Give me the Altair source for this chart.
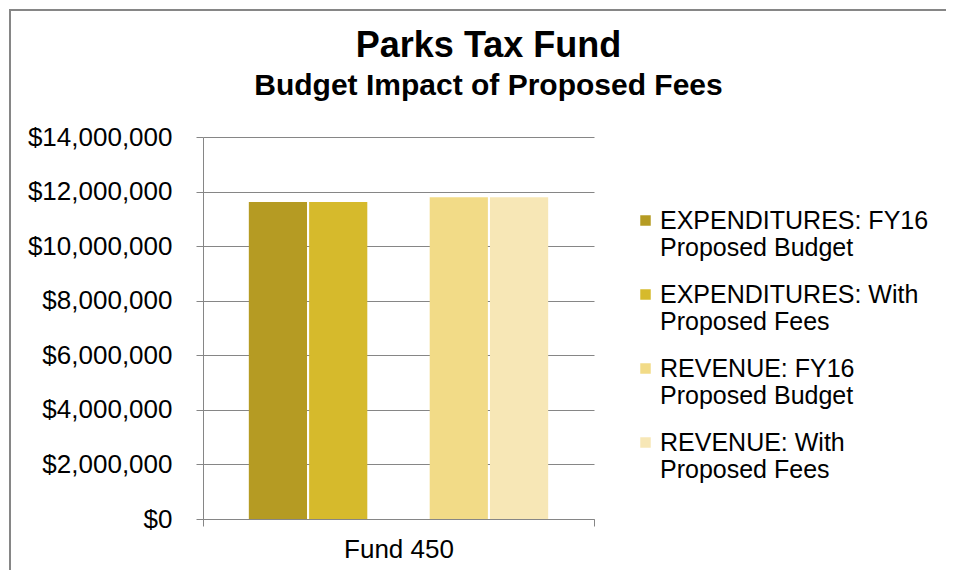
import altair as alt
import pandas as pd

fund = ["Fund 450"] * 4
series = [
    "EXPENDITURES: FY16 Proposed Budget",
    "EXPENDITURES: With Proposed Fees",
    "REVENUE: FY16 Proposed Budget",
    "REVENUE: With Proposed Fees",
]
values = [11620000, 11620000, 11790000, 11790000]
colors = ["#B59B23", "#D6BA2C", "#F2DB87", "#F7E7B6"]
offset_domain = [series[0], series[1], "spacer", series[2], series[3]]
y_ticks = [0, 2000000, 4000000, 6000000, 8000000, 10000000, 12000000, 14000000]

df = pd.DataFrame({"fund": fund, "series": series, "value": values})

font = "Liberation Sans"
gray = "#868686"

bars = alt.Chart(df).mark_bar().encode(
    x=alt.X("fund:N", title=None,
            scale=alt.Scale(paddingOuter=0, paddingInner=0),
            axis=alt.Axis(labelAngle=0, labelFontSize=26, labelColor="#000000",
                          labelFont=font, domainColor=gray, tickColor=gray,
                          tickBand="extent", tickSize=7, labelPadding=10)),
    xOffset=alt.XOffset("series:N", scale=alt.Scale(domain=offset_domain,
                                                    paddingInner=0.035, paddingOuter=0.76)),
    y=alt.Y("value:Q", title=None,
            scale=alt.Scale(domain=[0, 14000000]),
            axis=alt.Axis(values=y_ticks, format="$,.0f", labelFontSize=26,
                          labelColor="#000000", labelFont=font,
                          domainColor=gray, tickColor=gray, tickSize=7,
                          gridColor=gray, labelPadding=24)),
    color=alt.Color("series:N", scale=alt.Scale(domain=series, range=colors),
                    legend=alt.Legend(title=None, orient="none", legendX=430, legendY=71,
                                      labelFontSize=25, labelFont=font, labelColor="#000000",
                                      labelLimit=400, symbolType="square", symbolSize=110,
                                      symbolStrokeWidth=0, rowPadding=21, labelOffset=2,
                                      labelExpr="split(replace(datum.label, ' Proposed', '|Proposed'), '|')")),
)

frame_df = pd.DataFrame({"k": [0]})
frame_left = alt.Chart(frame_df).mark_rule(stroke=gray, strokeWidth=2).encode(
    x=alt.value(-193), y=alt.value(-128), y2=alt.value(440)
)
frame_top = alt.Chart(frame_df).mark_rule(stroke=gray, strokeWidth=2).encode(
    x=alt.value(-194), x2=alt.value(743), y=alt.value(-127)
)

chart = alt.layer(frame_left, frame_top, bars).properties(
    width=391, height=382,
    autosize=alt.AutoSizeParams(type="none"),
    padding={"left": 195, "top": 129, "right": 352, "bottom": 51},
    title=alt.TitleParams("Parks Tax Fund", subtitle="Budget Impact of Proposed Fees",
                          fontSize=36, subtitleFontSize=30, fontWeight="bold",
                          subtitleFontWeight="bold", font=font, subtitleFont=font,
                          color="#000000", subtitleColor="#000000", anchor="middle",
                          frame="group", dx=90, dy=114, offset=20, subtitlePadding=6),
).configure_view(stroke=None)

chart.save("out.html", embed_options={"renderer": "svg", "actions": False})
